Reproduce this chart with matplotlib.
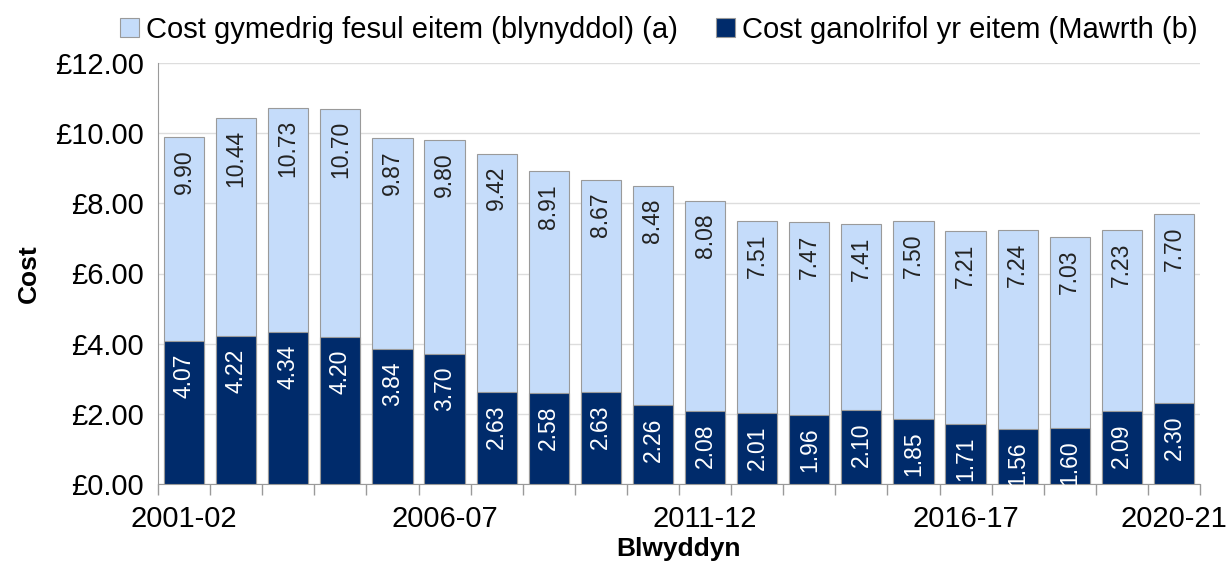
import matplotlib
matplotlib.use("Agg")
import matplotlib.pyplot as plt
import numpy as np

years = ["2001-02", "2002-03", "2003-04", "2004-05", "2005-06", "2006-07", "2007-08",
         "2008-09", "2009-10", "2010-11", "2011-12", "2012-13", "2013-14", "2014-15",
         "2015-16", "2016-17", "2017-18", "2018-19", "2019-20", "2020-21"]
mean_cost = [9.90, 10.44, 10.73, 10.70, 9.87, 9.80, 9.42, 8.91, 8.67, 8.48, 8.08,
             7.51, 7.47, 7.41, 7.50, 7.21, 7.24, 7.03, 7.23, 7.70]
median_cost = [4.07, 4.22, 4.34, 4.20, 3.84, 3.70, 2.63, 2.58, 2.63, 2.26, 2.08,
               2.01, 1.96, 2.10, 1.85, 1.71, 1.56, 1.60, 2.09, 2.30]
label_years = ["2001-02", "2006-07", "2011-12", "2016-17", "2020-21"]
legend_labels = ["Cost gymedrig fesul eitem (blynyddol) (a)",
                 "Cost ganolrifol yr eitem (Mawrth (b)"]

plt.rcParams['font.family'] = ['Liberation Sans', 'DejaVu Sans']

light = "#C5DCFA"
dark = "#002B6B"
edge = "#9A9A9A"

fig = plt.figure(figsize=(12.31, 5.70), dpi=100)
ax = fig.add_axes([158/1231, 1 - 484/570, (1200-158)/1231, (484-63)/570])

x = np.arange(len(years))
w = 0.77
b1 = ax.bar(x, mean_cost, width=w, color=light, edgecolor=edge, linewidth=0.8,
            label=legend_labels[0], zorder=2)
b2 = ax.bar(x, median_cost, width=w, color=dark, edgecolor=edge, linewidth=0.8,
            label=legend_labels[1], zorder=3)

for xi, v in zip(x, mean_cost):
    ax.annotate(f"{v:.2f}", (xi, v), xytext=(0, -9), textcoords="offset points",
                rotation=90, ha="center", va="top", fontsize=16.5, color="#222222", zorder=4)
for xi, v in zip(x, median_cost):
    ax.annotate(f"{v:.2f}", (xi, v), xytext=(0, -9), textcoords="offset points",
                rotation=90, ha="center", va="top", fontsize=16.5, color="white", zorder=4)

ax.set_xlim(-0.5, len(years) - 0.5)
ax.set_ylim(0, 12)
ax.set_yticks(np.arange(0, 12.01, 2))
ax.set_yticklabels([f"£{v:.2f}" for v in np.arange(0, 12.01, 2)])
ax.yaxis.grid(True, color="#DDDDDD", linewidth=1, zorder=0)
ax.set_axisbelow(True)

# category boundary ticks
ax.set_xticks(np.arange(-0.5, len(years) + 0.5, 1))
ax.set_xticklabels([])
ax.tick_params(axis="x", which="major", length=8, color=edge, width=1)
ax.set_xticks([years.index(y) for y in label_years], minor=True)
ax.set_xticklabels(label_years, minor=True)
ax.tick_params(axis="x", which="minor", length=0, labelsize=21, pad=15)
ax.tick_params(axis="y", length=0, labelsize=21, pad=10)

for s in ["top", "right"]:
    ax.spines[s].set_visible(False)
ax.spines["left"].set_color(edge)
ax.spines["bottom"].set_color(edge)

ax.set_ylabel("Cost", fontsize=19, fontweight="bold", labelpad=10)
ax.set_xlabel("Blwyddyn", fontsize=19, fontweight="bold", labelpad=3)

fig.legend(handles=[b1, b2], labels=legend_labels, loc="upper center",
           bbox_to_anchor=(0.535, 1.018), ncol=2, frameon=False, fontsize=21,
           handlelength=0.65, handleheight=0.65, handletextpad=0.25, columnspacing=1.3)

fig.savefig("out.png", dpi=100)
